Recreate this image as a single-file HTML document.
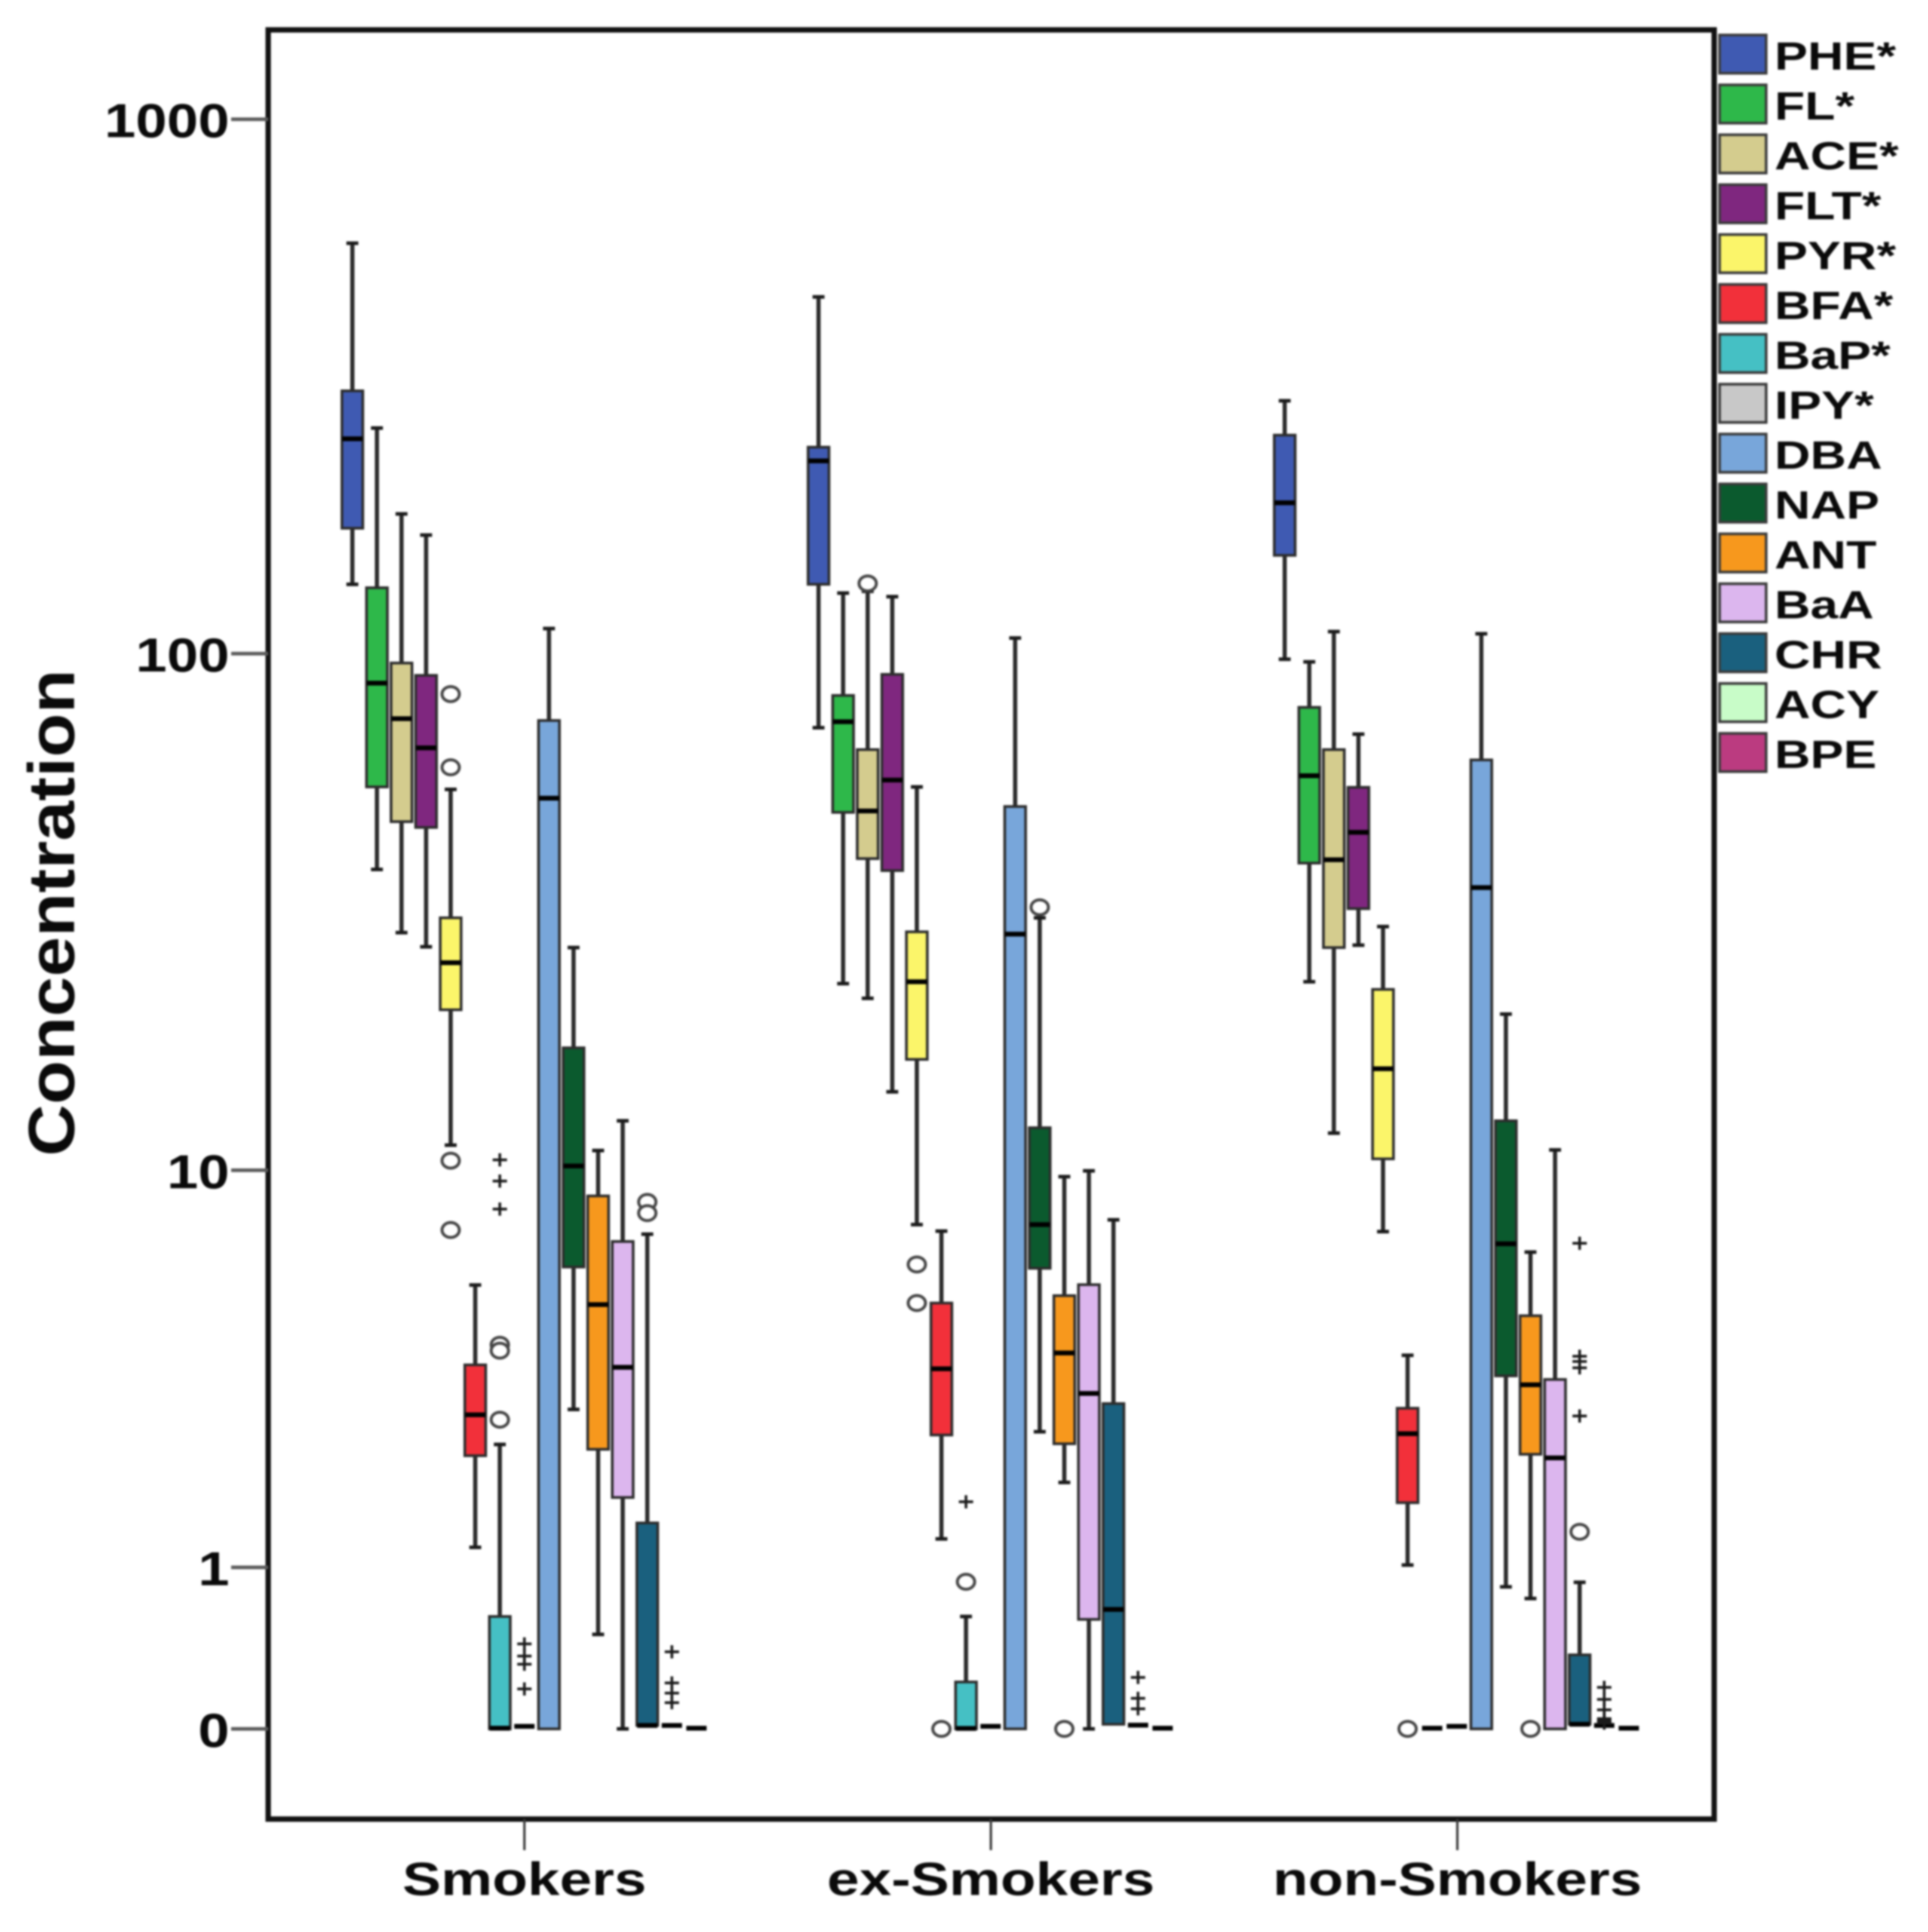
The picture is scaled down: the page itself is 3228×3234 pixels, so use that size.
<!DOCTYPE html>
<html lang="en">
<head>
<meta charset="utf-8">
<title>Concentration box plot by smoking status</title>
<style>
  html, body { margin: 0; padding: 0; background: #fff; }
  #chart { display: block; width: 3228px; height: 3234px; background: #fff; filter: blur(1.5px); }
  text { font-family: "Liberation Sans", Arial, sans-serif; font-weight: 700; fill: #0a0a0a; }
</style>
</head>
<body>
<svg id="chart" xmlns="http://www.w3.org/2000/svg" width="3228" height="3234" viewBox="0 0 3228 3234"></svg>
<script>
// ---- Categories and labels ----
const groupLabels = ['Smokers', 'ex-Smokers', 'non-Smokers'];
const seriesNames = ['PHE', 'FL', 'ACE', 'FLT', 'PYR', 'BFA', 'BaP', 'IPY', 'DBA', 'NAP', 'ANT', 'BaA', 'CHR', 'ACY', 'BPE'];
const legendLabels = ['PHE*', 'FL*', 'ACE*', 'FLT*', 'PYR*', 'BFA*', 'BaP*', 'IPY*', 'DBA', 'NAP', 'ANT', 'BaA', 'CHR', 'ACY', 'BPE'];
const seriesColors = ['#3f5ab2', '#2eb84a', '#d4cc8e', '#7f277f', '#fbf56a', '#f2303a', '#45c0c4', '#c8c8c8', '#78a6da', '#0b5a2e', '#f7981d', '#dcb6ee', '#1a607e', '#c8fcc8', '#bb3b80'];
const yTickValues = [0, 1, 10, 100, 1000];
const yTickLabels = ['0', '1', '10', '100', '1000'];

// ---- Smokers ----
const smokersHigh = [587, 265, 183, 167, 55.4, 5.72, 2.39, 0.011, 111.5, 27.6, 10.97, 12.6, 7.36, 0.015, 0.003];
const smokersQ3 = [311, 133, 96, 91, 31.5, 3.77, 0.62, 0.011, 74.8, 17.6, 8.85, 7.1, 1.42, 0.015, 0.003];
const smokersMedian = [253, 88, 75.4, 66.4, 25.8, 2.85, 0.003, 0.011, 53.3, 10.2, 5.18, 3.72, 0.015, 0.015, 0.003];
const smokersQ1 = [172, 56, 48.1, 46.9, 20.9, 2.23, 0, 0.011, 0, 6.26, 2.32, 1.7, 0.015, 0.015, 0.003];
const smokersLow = [135, 39, 29.5, 27.7, 11.25, 1.18, 0, 0.011, 0, 2.94, 0.5, 0, 0.015, 0.015, 0.003];
const smokersCircles = [[], [], [], [], [83.9, 61, 10.46, 7.51], [], [4.2, 4.07, 2.77], [], [], [], [], [], [8.6, 8.15], [], []];
const smokersCrosses = [[], [], [], [], [], [], [10.5, 9.5, 8.31], [0.44, 0.367, 0.32, 0.187], [], [], [], [], [], [0.392, 0.218, 0.166, 0.119], []];

// ---- ex-Smokers ----
const exHigh = [466, 130, 131, 128, 56, 7.47, 0.62, 0.011, 107, 31.5, 9.7, 9.97, 7.89, 0.016, 0.003];
const exQ3 = [244, 83.4, 65.9, 91.4, 29.6, 5.22, 0.223, 0.011, 51.4, 12.2, 5.42, 5.73, 3.04, 0.016, 0.003];
const exMedian = [230, 74.4, 50.4, 57.7, 23.7, 3.69, 0.002, 0.011, 29.3, 7.71, 4.02, 3.22, 0.67, 0.016, 0.003];
const exQ1 = [135, 50.1, 40.9, 38.8, 16.7, 2.53, 0, 0.011, 0, 6.22, 2.4, 0.6, 0.02, 0.016, 0.003];
const exLow = [72.5, 23.5, 22, 14.4, 7.71, 1.26, 0, 0.011, 0, 2.58, 1.88, 0, 0.02, 0.016, 0.003];
const exCircles = [[], [], [135.5], [], [6.34, 5.22], [0], [0.88], [], [], [33], [0], [], [], [], []];
const exCrosses = [[], [], [], [], [], [], [1.65], [], [], [], [], [], [], [0.247, 0.14, 0.09], []];

// ---- non-Smokers ----
const nonHigh = [298, 96.5, 110, 70.5, 30.3, 3.97, 0.003, 0.011, 109, 20.5, 6.74, 11, 0.876, 0.015, 0.003];
const nonQ3 = [257, 79.2, 65.9, 55.9, 22.9, 2.96, 0.003, 0.011, 63, 12.6, 4.89, 3.48, 0.374, 0.015, 0.003];
const nonMedian = [192, 58.8, 40.7, 45.9, 16, 2.55, 0.003, 0.011, 36, 7.02, 3.38, 2.2, 0.02, 0.015, 0.003];
const nonQ1 = [153, 40.1, 27.6, 32.8, 10.55, 1.64, 0.003, 0.011, 0, 3.55, 2.25, 0, 0.02, 0.015, 0.003];
const nonLow = [97.6, 23.7, 11.9, 27.9, 7.45, 1.02, 0.003, 0.011, 0, 0.84, 0.75, 0, 0.02, 0.015, 0.003];
const nonCircles = [[], [], [], [], [], [0], [], [], [], [], [0], [], [1.33], [], []];
const nonCrosses = [[], [], [], [], [], [], [], [], [], [], [], [], [7.04, 3.95, 3.84, 3.71, 2.83], [0.195, 0.135, 0.085, 0.045, 0.035, 0.03, 0.025], []];

const highs = [smokersHigh, exHigh, nonHigh];
const q3s = [smokersQ3, exQ3, nonQ3];
const medians = [smokersMedian, exMedian, nonMedian];
const q1s = [smokersQ1, exQ1, nonQ1];
const lows = [smokersLow, exLow, nonLow];
const circleSets = [smokersCircles, exCircles, nonCircles];
const crossSets = [smokersCrosses, exCrosses, nonCrosses];

// ---- Axis functions ----
const svg = document.getElementById('chart');
const NS = 'http://www.w3.org/2000/svg';
function yAxis(v) { return 2894 - 898 * Math.log10(1 + v); }
function xGroup(g) { return 878 + g * 780.5; }
function xBox(g, s) { return xGroup(g) + (s - 7) * 41.15; }
function mk(tag, attrs, parent) {
  const el = document.createElementNS(NS, tag);
  for (const k in attrs) el.setAttribute(k, attrs[k]);
  (parent || svg).appendChild(el);
  return el;
}
function slug(s) { return s.toLowerCase().replace(/[^a-z0-9]+/g, '-'); }

// ---- Frame ----
const frame = mk('rect', { x: 449, y: 50, width: 2421, height: 2995, fill: '#fff', stroke: '#111', 'stroke-width': 9 });



// ---- Y axis ----
yTickValues.forEach((v, i) => {
  const y = yAxis(v);
  const tick = mk('line', { x1: 387, x2: 449, y1: y, y2: y, stroke: '#5a5a5a', 'stroke-width': 6 });
  
  
  const label = mk('text', { transform: 'translate(384,' + (y + 30) + ') scale(1.175,1)', 'text-anchor': 'end', 'font-size': 80 });
  label.textContent = yTickLabels[i];
  
  
});
const yTitle = mk('text', { transform: 'translate(124,1528) rotate(-90) scale(1.093,1)', 'text-anchor': 'middle', 'font-size': 110 });
yTitle.textContent = 'Concentration';



// ---- X axis ----
groupLabels.forEach((name, g) => {
  const x = xGroup(g) + g * 0.5;
  const tick = mk('line', { x1: x, x2: x, y1: 3045, y2: 3097, stroke: '#3a3a3a', 'stroke-width': 4 });
  
  
  const label = mk('text', { transform: 'translate(' + x + ',3172) scale(1.24,1)', 'text-anchor': 'middle', 'font-size': 78 });
  label.textContent = name;
  
  
});

// ---- Boxes ----
groupLabels.forEach((groupName, g) => {
  seriesNames.forEach((name, s) => {
    const x = xBox(g, s);
    const hi = yAxis(highs[g][s]), q3 = yAxis(q3s[g][s]), med = yAxis(medians[g][s]), q1 = yAxis(q1s[g][s]), lo = yAxis(lows[g][s]);
    const box = mk('g', {});
    
    
    if (hi < q3 - 0.5) {
      mk('line', { x1: x, x2: x, y1: hi, y2: q3, stroke: '#2a2a2a', 'stroke-width': 7 }, box);
      mk('line', { x1: x - 10, x2: x + 10, y1: hi, y2: hi, stroke: '#1a1a1a', 'stroke-width': 6 }, box);
    }
    if (lo > q1 + 0.5) {
      mk('line', { x1: x, x2: x, y1: q1, y2: lo, stroke: '#2a2a2a', 'stroke-width': 7 }, box);
      mk('line', { x1: x - 10, x2: x + 10, y1: lo, y2: lo, stroke: '#1a1a1a', 'stroke-width': 6 }, box);
    }
    mk('rect', { x: x - 17.5, y: q3, width: 35, height: Math.max(0, q1 - q3), fill: seriesColors[s], stroke: '#2c2c2c', 'stroke-width': 4.5 }, box);
    mk('line', { x1: x - 17, x2: x + 17, y1: med, y2: med, stroke: '#000', 'stroke-width': 8 }, box);

    circleSets[g][s].forEach(v => {
      const c = mk('ellipse', { cx: x, cy: yAxis(v), rx: 14.5, ry: 12.5, fill: '#fff', stroke: '#444', 'stroke-width': 5 });
      
      
    });
    crossSets[g][s].forEach(v => {
      const cy = yAxis(v);
      const c = mk('path', { d: 'M' + (x - 12) + ' ' + cy + 'H' + (x + 12) + 'M' + x + ' ' + (cy - 11) + 'V' + (cy + 11), stroke: '#1a1a1a', 'stroke-width': 4.5, fill: 'none' });
      
      
    });
  });
});

// ---- Legend ----
legendLabels.forEach((label, i) => {
  const top = 58.6 + i * 83.5;
  const entry = mk('g', {});
  
  
  const swatch = mk('rect', { x: 2879, y: top, width: 78, height: 64, fill: seriesColors[i], stroke: '#3a3a3a', 'stroke-width': 4.5 }, entry);
  
  
  const text = mk('text', { transform: 'translate(2971,' + (top + 58) + ') scale(1.26,1)', 'font-size': 66 }, entry);
  text.textContent = label;
  
  
});
</script>
</body>
</html>
